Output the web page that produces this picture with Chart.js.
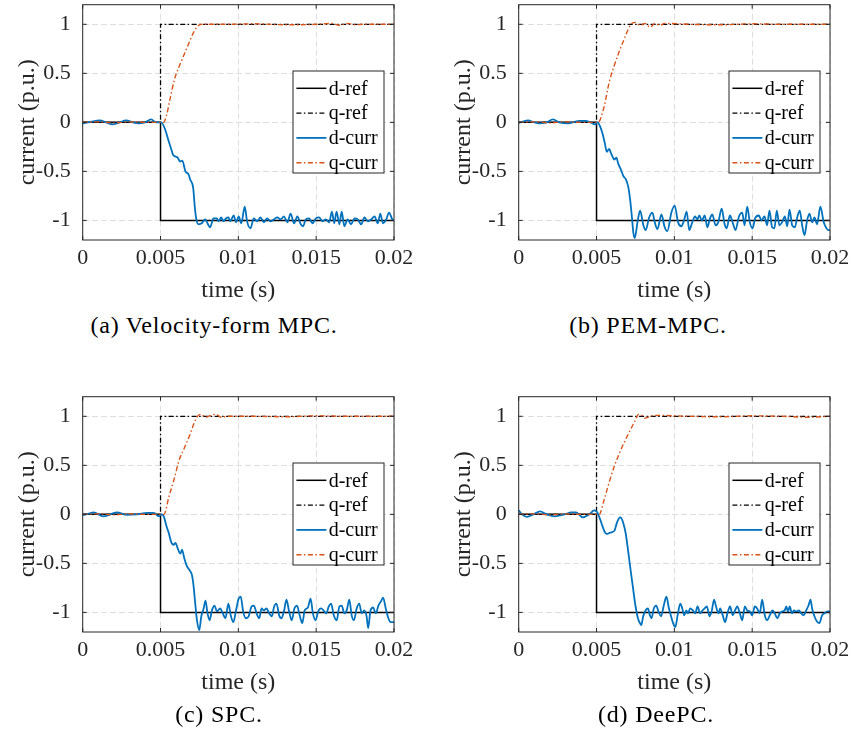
<!DOCTYPE html>
<html>
<head>
<meta charset="utf-8">
<script src="https://cdn.jsdelivr.net/npm/chart.js@4/dist/chart.umd.min.js"></script>
<style>
  html, body { margin: 0; padding: 0; background: #fff; }
  body { width: 855px; height: 737px; position: relative; overflow: hidden; }
  .panel { position: absolute; width: 430px; height: 310px; }
  .panel canvas { display: block; }
  .cap {
    position: absolute; font-family: "Liberation Serif", serif; font-size: 24px;
    letter-spacing: 0.8px; color: #000; white-space: nowrap; line-height: 24px;
    transform: translateX(-50%);
  }
</style>
</head>
<body>
<div class="panel" style="left:0px;top:0px"><canvas id="chartA" width="430" height="310"></canvas></div>
<div class="panel" style="left:436px;top:0px"><canvas id="chartB" width="430" height="310"></canvas></div>
<div class="panel" style="left:0px;top:391.7px"><canvas id="chartC" width="430" height="310"></canvas></div>
<div class="panel" style="left:436px;top:391.7px"><canvas id="chartD" width="430" height="310"></canvas></div>
<div class="cap" style="left:214px;top:313px">(a) Velocity-form MPC.</div>
<div class="cap" style="left:648px;top:313px">(b) PEM-MPC.</div>
<div class="cap" style="left:219px;top:702px">(c) SPC.</div>
<div class="cap" style="left:656px;top:702px">(d) DeePC.</div>
<script>
// ---- axis ticks ----
const xTicks = [0, 0.005, 0.01, 0.015, 0.02];
const xTickLabels = ['0', '0.005', '0.01', '0.015', '0.02'];
const yTicks = [-1, -0.5, 0, 0.5, 1];
const yTickLabels = ['-1', '-0.5', '0', '0.5', '1'];
const seriesNames = ['d-ref', 'q-ref', 'd-curr', 'q-curr'];

// ---- reference steps (shared by all controllers) ----
const refTime = [0, 0.005, 0.005, 0.02];
const dRef = [0, 0, -1, -1];
const qRef = [0, 0, 1, 1];

// ---- (a) Velocity-form MPC ----
const dTimeA = [
  0, 0.0005, 0.0011, 0.0015, 0.0019, 0.0023, 0.0028, 0.0032, 0.0036, 0.004,
  0.0044, 0.0047, 0.00505, 0.0053, 0.0055, 0.0057, 0.0058, 0.006, 0.0061, 0.00625,
  0.0064, 0.0066, 0.0068, 0.0069, 0.0071, 0.0072, 0.0073, 0.00745, 0.00765, 0.00787,
  0.00808, 0.00819, 0.0084, 0.00862, 0.00873, 0.0089, 0.00905, 0.0092, 0.00937, 0.00948,
  0.0097, 0.00985, 0.01002, 0.01019, 0.01041, 0.01056, 0.01078, 0.01099, 0.01121, 0.01142,
  0.01164, 0.01185, 0.01207, 0.01228, 0.0125, 0.01271, 0.01293, 0.01315, 0.01336, 0.01358,
  0.01379, 0.01401, 0.01416, 0.01433, 0.01455, 0.01476, 0.01498, 0.01519, 0.01541, 0.01562,
  0.01584, 0.01601, 0.01616, 0.01631, 0.01649, 0.01664, 0.01681, 0.01702, 0.01724, 0.01746,
  0.01767, 0.01789, 0.0181, 0.01832, 0.01853, 0.01875, 0.01896, 0.01912, 0.01929, 0.0195,
  0.01968, 0.01989, 0.02
];
const dCurrA = [
  -0.01, 0.005, 0.02, 0, -0.02, -0.005, 0.02, 0, -0.01, 0,
  0.03, 0, 0, -0.075, -0.18, -0.28, -0.33, -0.35, -0.36, -0.40,
  -0.39, -0.50, -0.53, -0.58, -0.67, -0.86, -0.99, -1.04, -1.03, -0.99,
  -1.05, -1.07, -0.98, -0.98, -1.01, -0.97, -1.01, -0.98, -0.97, -1.01,
  -0.95, -1.02, -0.96, -1.03, -0.86, -1.01, -1.08, -0.98, -1.01, -0.97,
  -1.02, -0.98, -1.01, -0.99, -0.97, -0.99, -0.96, -1.02, -0.93, -1.03,
  -0.96, -1.04, -1.06, -0.99, -0.98, -1.03, -0.98, -0.97, -1.01, -0.99,
  -1.02, -0.91, -1.03, -0.91, -1.04, -0.91, -1.06, -0.99, -1.04, -0.98,
  -0.99, -1.04, -0.97, -1.01, -0.99, -0.96, -1.03, -0.93, -1.03, -0.99,
  -0.92, -0.99, -1.0
];
const qTimeA = [0, 0.001, 0.002, 0.003, 0.004, 0.0052, 0.0054, 0.0056, 0.0059, 0.0063,
  0.0067, 0.0071, 0.00745, 0.0077, 0.009, 0.011, 0.013, 0.015, 0.016, 0.0165,
  0.017, 0.0175, 0.018, 0.02];
const qCurrA = [0, 0.005, -0.005, 0.005, 0, 0, 0.08, 0.23, 0.44, 0.61,
  0.76, 0.91, 0.99, 1.0, 1.0, 1.005, 0.995, 1.0, 1.01, 0.99,
  1.01, 0.995, 1.0, 1.0];

// ---- (b) PEM-MPC ----
const dTimeB = [
  0, 0.0003, 0.0006, 0.001, 0.0013, 0.0018, 0.0022, 0.0026, 0.0032, 0.0036,
  0.0039, 0.0043, 0.0046, 0.0049, 0.00506, 0.00517, 0.00538, 0.00553, 0.00566, 0.00581,
  0.00592, 0.00603, 0.00613, 0.00628, 0.00639, 0.00656, 0.00673, 0.00688, 0.00703, 0.00716,
  0.00727, 0.00737, 0.00746, 0.00763, 0.0078, 0.00801, 0.00816, 0.00838, 0.00859, 0.00874,
  0.00891, 0.00917, 0.00938, 0.00955, 0.00981, 0.01002, 0.01024, 0.01045, 0.01062, 0.01079,
  0.01096, 0.01115, 0.01133, 0.01148, 0.0116, 0.01177, 0.01195, 0.01212, 0.01229, 0.01244,
  0.01265, 0.01282, 0.01304, 0.01323, 0.01336, 0.01357, 0.01376, 0.01393, 0.01415, 0.01436,
  0.01451, 0.01468, 0.01485, 0.01502, 0.01521, 0.01543, 0.0156, 0.01579, 0.01596, 0.01611,
  0.01628, 0.01643, 0.01658, 0.01675, 0.01692, 0.0171, 0.01725, 0.0174, 0.01757, 0.01774,
  0.01791, 0.01806, 0.01821, 0.01836, 0.01853, 0.01868, 0.01885, 0.019, 0.01917, 0.01938,
  0.0196, 0.01977, 0.01992, 0.02
];
const dCurrB = [
  -0.005, 0.01, 0.02, 0, -0.01, 0, 0.03, 0, -0.01, 0.005,
  0.015, 0.015, 0, -0.02, 0, -0.02, -0.11, -0.21, -0.30, -0.27,
  -0.31, -0.35, -0.38, -0.36, -0.42, -0.48, -0.55, -0.58, -0.65, -0.79,
  -0.96, -1.13, -1.18, -1.02, -0.90, -1.05, -1.10, -0.97, -0.92, -1.02,
  -1.09, -0.94, -1.07, -1.11, -0.92, -0.85, -1.02, -1.06, -1.0, -0.91,
  -1.10, -1.02, -0.96, -0.99, -0.95, -1.0, -0.95, -1.07, -0.98, -0.94,
  -1.05, -1.02, -0.88, -1.04, -1.08, -0.95, -1.03, -1.10, -0.96, -0.92,
  -1.05, -0.86, -1.02, -1.08, -0.97, -0.95, -1.0, -0.96, -1.05, -0.90,
  -1.07, -1.08, -0.90, -1.05, -1.02, -0.96, -1.06, -0.89, -1.05, -1.07,
  -0.96, -0.90, -1.05, -1.15, -1.0, -0.93, -1.02, -0.97, -1.04, -0.86,
  -1.02, -1.08, -1.10, -1.10
];
const qTimeB = [0, 0.001, 0.002, 0.003, 0.004, 0.0051, 0.00549, 0.0058, 0.00612, 0.00643,
  0.00675, 0.00707, 0.00728, 0.00749, 0.00781, 0.00812, 0.00844, 0.00876, 0.00907, 0.00939,
  0.011, 0.013, 0.015, 0.017, 0.02];
const qCurrB = [0, 0.005, -0.005, 0.005, 0, 0, 0.16, 0.40, 0.57, 0.71,
  0.84, 0.96, 1.01, 1.02, 0.99, 1.01, 0.97, 1.01, 0.99, 1.01,
  1.0, 0.995, 1.005, 1.0, 1.0];

// ---- (c) SPC ----
const dTimeC = [
  0, 0.00047, 0.00069, 0.00134, 0.0022, 0.00284, 0.00349, 0.00414, 0.00457, 0.00489,
  0.00504, 0.00521, 0.00538, 0.00553, 0.00568, 0.00585, 0.00596, 0.00611, 0.00628, 0.00638,
  0.00653, 0.0067, 0.00687, 0.00702, 0.00713, 0.00723, 0.00734, 0.00749, 0.00762, 0.00777,
  0.00789, 0.00802, 0.00815, 0.0083, 0.00847, 0.00862, 0.00883, 0.009, 0.00917, 0.00936,
  0.00951, 0.00968, 0.00985, 0.01002, 0.01015, 0.01032, 0.01049, 0.01066, 0.01085, 0.011,
  0.01117, 0.01134, 0.01149, 0.01164, 0.01181, 0.01198, 0.01215, 0.0123, 0.01245, 0.01262,
  0.01277, 0.01294, 0.01309, 0.01326, 0.01343, 0.0136, 0.01377, 0.01394, 0.01411, 0.01426,
  0.01447, 0.01464, 0.01479, 0.01496, 0.01513, 0.01532, 0.01547, 0.01564, 0.01581, 0.01596,
  0.01613, 0.01632, 0.01649, 0.01664, 0.01681, 0.01696, 0.01713, 0.01728, 0.01743, 0.0176,
  0.01777, 0.01792, 0.01809, 0.01824, 0.01834, 0.01849, 0.01866, 0.01883, 0.019, 0.01915,
  0.0193, 0.01947, 0.01964, 0.01979, 0.02
];
const dCurrC = [
  -0.007, 0.01, 0.02, -0.02, 0.02, -0.005, 0, 0.015, 0.015, -0.02,
  0, -0.02, -0.12, -0.19, -0.28, -0.31, -0.29, -0.35, -0.40, -0.36,
  -0.45, -0.53, -0.57, -0.62, -0.74, -0.91, -1.08, -1.18, -1.04, -0.96,
  -0.88, -1.01, -1.08, -0.98, -0.93, -0.99, -0.96, -1.01, -1.06, -0.91,
  -1.03, -1.10, -0.98, -0.86, -0.84, -1.0, -1.06, -1.04, -0.94, -0.93,
  -1.01, -1.06, -0.96, -0.98, -0.96, -1.01, -1.04, -0.94, -0.91, -1.03,
  -1.06, -0.98, -0.87, -0.99, -1.08, -0.96, -0.93, -1.03, -1.11, -0.98,
  -0.95, -0.86, -1.01, -1.08, -0.99, -0.96, -0.98, -1.01, -0.94, -0.91,
  -1.03, -1.08, -0.94, -0.93, -1.01, -0.98, -0.87, -1.03, -1.08, -0.96,
  -0.91, -1.01, -0.98, -1.04, -1.16, -0.98, -0.95, -1.01, -0.93, -0.89,
  -0.85, -0.96, -1.06, -1.10, -1.10
];
const qTimeC = [0, 0.001, 0.002, 0.003, 0.004, 0.00522, 0.00554, 0.00586, 0.00619, 0.00651,
  0.00683, 0.00716, 0.00737, 0.00759, 0.00791, 0.00823, 0.00856, 0.00888, 0.00931, 0.011,
  0.013, 0.015, 0.017, 0.02];
const qCurrC = [0, 0.005, -0.005, 0.005, 0, 0, 0.18, 0.35, 0.55, 0.67,
  0.79, 0.93, 1.0, 1.02, 0.99, 1.01, 1.02, 0.99, 1.0, 1.0,
  0.995, 1.005, 1.0, 1.0];

// ---- (d) DeePC ----
const dTimeD = [
  0, 0.00021, 0.00053, 0.00095, 0.00137, 0.00179, 0.00232, 0.00295, 0.00338, 0.00369,
  0.00411, 0.00454, 0.00485, 0.005, 0.00511, 0.00523, 0.00538, 0.00553, 0.00566, 0.00581,
  0.00602, 0.00617, 0.0063, 0.00645, 0.00655, 0.00672, 0.00687, 0.00702, 0.00719, 0.00736,
  0.00751, 0.00766, 0.00779, 0.00787, 0.008, 0.00815, 0.0083, 0.00843, 0.00853, 0.00868,
  0.00883, 0.009, 0.00915, 0.00932, 0.00949, 0.00964, 0.00979, 0.00992, 0.01006, 0.01021,
  0.01038, 0.01051, 0.01064, 0.01077, 0.01087, 0.01102, 0.01119, 0.01134, 0.01149, 0.01166,
  0.01181, 0.01194, 0.01209, 0.01226, 0.01241, 0.01255, 0.01268, 0.01283, 0.01294, 0.01311,
  0.01326, 0.01341, 0.01358, 0.01375, 0.0139, 0.01404, 0.01421, 0.01436, 0.01453, 0.01468,
  0.01485, 0.015, 0.01517, 0.01532, 0.01549, 0.01564, 0.01581, 0.01596, 0.01613, 0.0163,
  0.01645, 0.01662, 0.01677, 0.01694, 0.01709, 0.01719, 0.0173, 0.01741, 0.01756, 0.01768,
  0.01783, 0.018, 0.01815, 0.0183, 0.01847, 0.01862, 0.01875, 0.01885, 0.019, 0.01915,
  0.01932, 0.01949, 0.01964, 0.01985, 0.02
];
const dCurrD = [
  0.04, 0, -0.025, 0, 0.03, 0, -0.02, 0, 0.02, 0.02,
  -0.03, 0, 0.04, 0.03, 0, -0.05, -0.12, -0.18, -0.20, -0.19,
  -0.18, -0.16, -0.09, -0.04, -0.03, -0.09, -0.19, -0.36, -0.57, -0.77,
  -0.94, -1.06, -1.11, -1.13, -1.04, -0.98, -0.96, -1.03, -1.06, -0.96,
  -0.93, -1.0, -1.04, -0.93, -0.84, -0.95, -1.04, -1.11, -1.15, -1.03,
  -0.91, -0.96, -1.03, -0.98, -1.01, -0.96, -0.98, -1.01, -0.94, -1.01,
  -0.98, -0.96, -0.94, -1.04, -0.98, -0.87, -0.94, -1.01, -0.96, -1.03,
  -1.10, -1.01, -0.94, -1.03, -0.98, -0.94, -1.01, -1.08, -0.94, -0.98,
  -0.99, -1.03, -0.94, -0.96, -1.01, -0.87, -1.03, -1.08, -1.03, -0.98,
  -1.01, -1.06, -1.01, -0.99, -0.98, -0.94, -0.99, -0.94, -1.01, -0.98,
  -0.99, -0.98, -1.01, -1.03, -0.98, -0.93, -0.87, -0.96, -1.04, -1.09,
  -1.11, -1.03, -1.01, -0.99, -0.99
];
const qTimeD = [0, 0.001, 0.002, 0.003, 0.004, 0.00517, 0.00549, 0.0058, 0.00612, 0.00654,
  0.00686, 0.00717, 0.00749, 0.0077, 0.00791, 0.00812, 0.00844, 0.00876, 0.011, 0.013,
  0.015, 0.017, 0.0185, 0.02];
const qCurrD = [0, 0.005, -0.005, 0.005, 0, 0, 0.15, 0.32, 0.48, 0.65,
  0.76, 0.86, 0.96, 1.02, 1.01, 0.98, 1.0, 1.01, 1.0, 0.995,
  1.005, 1.0, 0.99, 1.0];

// ---- styling ----
const SERIF = '"Liberation Serif", "Times New Roman", serif';
const AXIS_INK = '#262626';
const GRID_INK = '#dedede';
const BLUE = '#0072BD';
const ORANGE = '#D95319';
const DASH_DOT = [5, 2.5, 1.5, 2.5];

const toPoints = (xs, ys) => xs.map((x, i) => ({ x, y: ys[i] }));

// keep the plot box fixed: no extra room reserved for overhanging tick labels
const noOverhang = s => { s.paddingTop = 0; s.paddingBottom = 0; s.paddingLeft = 0; s.paddingRight = 0; };

// Box outline with inward tick marks on all four sides
const axesBox = {
  id: 'axesBox',
  afterDatasetsDraw(chart) {
    const { ctx, chartArea: a, scales } = chart;
    const len = 4;
    ctx.save();
    ctx.strokeStyle = AXIS_INK;
    ctx.lineWidth = 1;
    ctx.setLineDash([]);
    ctx.beginPath();
    scales.x.ticks.forEach(t => {
      const px = scales.x.getPixelForValue(t.value);
      ctx.moveTo(px, a.bottom); ctx.lineTo(px, a.bottom - len);
      ctx.moveTo(px, a.top); ctx.lineTo(px, a.top + len);
    });
    scales.y.ticks.forEach(t => {
      const py = scales.y.getPixelForValue(t.value);
      ctx.moveTo(a.left, py); ctx.lineTo(a.left + len, py);
      ctx.moveTo(a.right, py); ctx.lineTo(a.right - len, py);
    });
    ctx.stroke();
    ctx.strokeRect(a.left, a.top, a.right - a.left, a.bottom - a.top);
    ctx.restore();
  }
};

// Framed legend placed inside the axes, right side
const insetLegend = {
  id: 'insetLegend',
  afterDatasetsDraw(chart) {
    const { ctx, chartArea: a } = chart;
    const w = 91, h = 102;
    const right = a.right - 10, top = a.top + 66.3, left = right - w;
    ctx.save();
    ctx.fillStyle = '#fff';
    ctx.fillRect(left, top, w, h);
    ctx.strokeStyle = AXIS_INK;
    ctx.lineWidth = 1;
    ctx.strokeRect(left, top, w, h);
    chart.data.datasets.forEach((ds, i) => {
      const y = top + 17.3 + i * 24.8;
      ctx.setLineDash(ds.borderDash || []);
      ctx.strokeStyle = ds.borderColor;
      ctx.lineWidth = ds.borderWidth;
      ctx.beginPath();
      ctx.moveTo(left + 3.4, y);
      ctx.lineTo(left + 33.4, y);
      ctx.stroke();
      ctx.setLineDash([]);
      ctx.fillStyle = '#000';
      ctx.font = '20px ' + SERIF;
      ctx.textBaseline = 'middle';
      ctx.textAlign = 'left';
      ctx.fillText(ds.label, left + 35.7, y + 1);
    });
    ctx.restore();
  }
};

function buildChart(id, dTime, dCurr, qTime, qCurr) {
  const datasets = [
    { label: seriesNames[0], data: toPoints(refTime, dRef), borderColor: '#000', borderWidth: 1.5, order: 4 },
    { label: seriesNames[1], data: toPoints(refTime, qRef), borderColor: '#000', borderWidth: 1.3, borderDash: DASH_DOT, order: 3 },
    { label: seriesNames[2], data: toPoints(dTime, dCurr), borderColor: BLUE, borderWidth: 1.8, cubicInterpolationMode: 'monotone', order: 2 },
    { label: seriesNames[3], data: toPoints(qTime, qCurr), borderColor: ORANGE, borderWidth: 1.4, borderDash: DASH_DOT, cubicInterpolationMode: 'monotone', order: 1 }
  ];
  datasets.forEach(ds => { ds.pointRadius = 0; ds.fill = false; ds.tension = ds.cubicInterpolationMode ? 0.4 : 0; });

  return new Chart(document.getElementById(id), {
    type: 'line',
    data: { datasets },
    options: {
      responsive: false,
      animation: false,
      devicePixelRatio: 1,
      layout: { padding: { left: 0, top: 4.7, right: 36, bottom: 0 } },
      plugins: { legend: { display: false }, tooltip: { enabled: false } },
      scales: {
        x: {
          type: 'linear', min: 0, max: 0.02,
          afterFit: s => { s.height = 70; noOverhang(s); },
          afterBuildTicks: s => { s.ticks = xTicks.map(v => ({ value: v })); },
          grid: { color: GRID_INK, lineWidth: 1, drawTicks: false },
          border: { display: false, dash: [6, 3] },
          ticks: {
            autoSkip: false, maxRotation: 0, padding: 5, color: AXIS_INK,
            font: { family: SERIF, size: 22 },
            callback: (v, i) => xTickLabels[i]
          },
          title: { display: true, text: 'time (s)', color: AXIS_INK,
                   font: { family: SERIF, size: 24 }, padding: { top: 0, bottom: 5 } }
        },
        y: {
          type: 'linear', min: -1.2, max: 1.2,
          afterFit: s => { s.width = 82.7; noOverhang(s); },
          afterBuildTicks: s => { s.ticks = yTicks.map(v => ({ value: v })); },
          grid: { color: GRID_INK, lineWidth: 1, drawTicks: false },
          border: { display: false, dash: [6, 3] },
          ticks: {
            autoSkip: false, padding: 12, color: AXIS_INK,
            font: { family: SERIF, size: 22 },
            callback: (v, i) => yTickLabels[i]
          },
          title: { display: true, text: 'current (p.u.)', color: AXIS_INK,
                   font: { family: SERIF, size: 24 }, padding: { top: 13, bottom: 0 } }
        }
      }
    },
    plugins: [axesBox, insetLegend]
  });
}

buildChart('chartA', dTimeA, dCurrA, qTimeA, qCurrA);
buildChart('chartB', dTimeB, dCurrB, qTimeB, qCurrB);
buildChart('chartC', dTimeC, dCurrC, qTimeC, qCurrC);
buildChart('chartD', dTimeD, dCurrD, qTimeD, qCurrD);
</script>
</body>
</html>
